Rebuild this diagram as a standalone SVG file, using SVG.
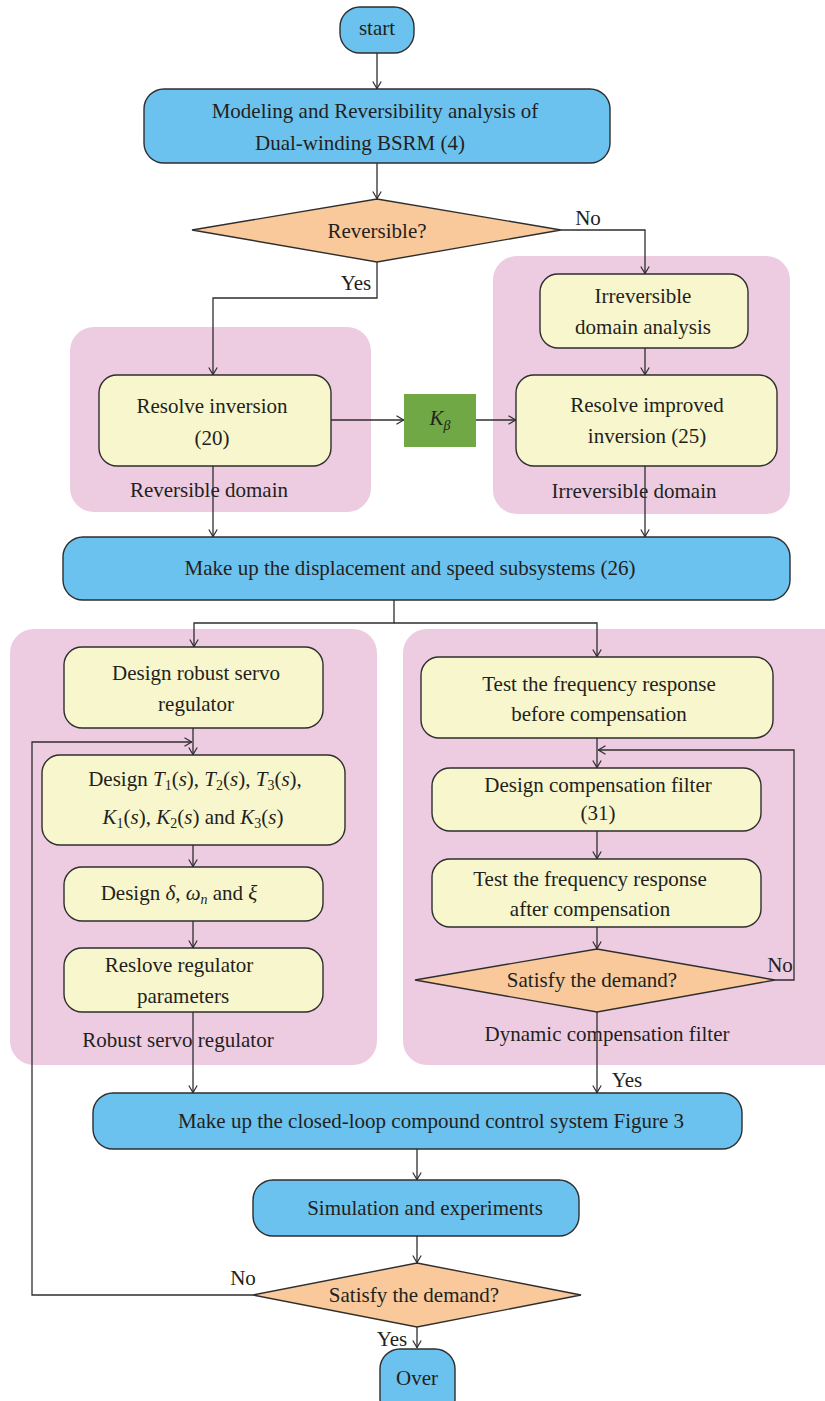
<svg xmlns="http://www.w3.org/2000/svg" width="825" height="1401" viewBox="0 0 825 1401">
<defs>
<marker id="arr" viewBox="0 0 8 10" refX="8" refY="5" markerWidth="8" markerHeight="10" orient="auto" markerUnits="userSpaceOnUse">
<path d="M0.5,0.8 L7.6,5 L0.5,9.2" fill="none" stroke="#2e2e2e" stroke-width="1.2"/>
</marker>
</defs>
<style>
text{font-family:"Liberation Serif","Times New Roman",serif;font-size:21px;fill:#231f20;text-anchor:middle}
.blue{fill:#6cc2ee;stroke:#2e2e2e;stroke-width:1.4}
.yel{fill:#f8f6cc;stroke:#2e2e2e;stroke-width:1.4}
.org{fill:#f9c99b;stroke:#2e2e2e;stroke-width:1.4}
.pink{fill:#edcce2;stroke:none}
.green{fill:#70a845;stroke:none}
.c{fill:none;stroke:#2e2e2e;stroke-width:1.3}
.ca{fill:none;stroke:#2e2e2e;stroke-width:1.3;marker-end:url(#arr)}
.i{font-style:italic}
.sub{font-size:14px}
</style>
<rect width="825" height="1401" fill="#ffffff"/>

<g id="panels">
<g id="panel-reversible"><rect class="pink" x="70" y="327" width="301" height="185" rx="24"/><text x="209" y="497">Reversible domain</text></g>
<g id="panel-irreversible"><rect class="pink" x="493" y="256" width="297" height="258" rx="24"/><text x="634" y="498">Irreversible domain</text></g>
<g id="panel-robust"><rect class="pink" x="10" y="629" width="367" height="436" rx="24"/><text x="178" y="1047">Robust servo regulator</text></g>
<g id="panel-dynamic"><rect class="pink" x="403" y="629" width="445" height="436" rx="24"/><text x="607" y="1041">Dynamic compensation filter</text></g>
</g>

<g id="connectors">
<path class="ca" d="M377,53 V89"/>
<path class="ca" d="M377,163 V199"/>
<path class="ca" d="M377,262 V298 H213 V375"/>
<path class="ca" d="M561,230 H645 V274"/>
<path class="ca" d="M645,348 V375"/>
<path class="ca" d="M331,420 H404"/>
<path class="ca" d="M476,420 H516"/>
<path class="ca" d="M213,466 V537"/>
<path class="ca" d="M645,466 V537"/>
<path class="ca" d="M394,600 V623 H194 V647"/>
<path class="ca" d="M394,623 H597 V657"/>
<path class="ca" d="M193,728 V755"/>
<path class="ca" d="M253,1295 H32 V742 H192"/>
<path class="ca" d="M193,845 V867"/>
<path class="ca" d="M193,921 V948"/>
<path class="ca" d="M193,1012 V1093"/>
<path class="ca" d="M597,738 V768"/>
<path class="ca" d="M775,980 H794 V750 H598"/>
<path class="ca" d="M597,831 V859"/>
<path class="ca" d="M597,927 V949"/>
<path class="ca" d="M597,1012 V1093"/>
<path class="ca" d="M417,1149 V1180"/>
<path class="ca" d="M417,1236 V1263"/>
<path class="ca" d="M417,1327 V1348"/>
<text x="588" y="225">No</text>
<text x="356" y="290">Yes</text>
<text x="780" y="972">No</text>
<text x="627" y="1087">Yes</text>
<text x="243" y="1285">No</text>
<text x="392" y="1346">Yes</text>
</g>

<g id="start"><rect class="blue" x="340" y="7" width="74" height="46" rx="20"/><text x="377" y="35">start</text></g>
<g id="modeling"><rect class="blue" x="144" y="89" width="466" height="74" rx="20"/><text x="375" y="118">Modeling and Reversibility analysis of</text><text x="360" y="150">Dual-winding BSRM (4)</text></g>
<g id="reversible"><polygon class="org" points="192,230 377,199 561,230 377,262"/><text x="377" y="238">Reversible?</text></g>
<g id="irrev-analysis"><rect class="yel" x="540" y="274" width="208" height="74" rx="18"/><text x="643" y="303">Irreversible</text><text x="643" y="334">domain analysis</text></g>
<g id="resolve-inversion"><rect class="yel" x="99" y="375" width="232" height="91" rx="18"/><text x="212" y="413">Resolve inversion</text><text x="212" y="445">(20)</text></g>
<g id="kbeta"><rect class="green" x="404" y="394" width="72" height="53"/><text x="440" y="425"><tspan class="i">K</tspan><tspan class="i sub" dy="5">β</tspan></text></g>
<g id="resolve-improved"><rect class="yel" x="516" y="375" width="261" height="91" rx="18"/><text x="647" y="412">Resolve improved</text><text x="647" y="443">inversion (25)</text></g>
<g id="makeup"><rect class="blue" x="63" y="537" width="727" height="63" rx="20"/><text x="410" y="575">Make up the displacement and speed subsystems (26)</text></g>
<g id="design-robust"><rect class="yel" x="64" y="647" width="259" height="81" rx="18"/><text x="196" y="680">Design robust servo</text><text x="196" y="711">regulator</text></g>
<g id="design-t"><rect class="yel" x="42" y="755" width="303" height="90" rx="18"/>
<text x="195" y="786">Design <tspan class="i">T</tspan><tspan class="sub" dy="4">1</tspan><tspan dy="-4">(</tspan><tspan class="i">s</tspan>), <tspan class="i">T</tspan><tspan class="sub" dy="4">2</tspan><tspan dy="-4">(</tspan><tspan class="i">s</tspan>), <tspan class="i">T</tspan><tspan class="sub" dy="4">3</tspan><tspan dy="-4">(</tspan><tspan class="i">s</tspan>),</text>
<text x="193" y="824"><tspan class="i">K</tspan><tspan class="sub" dy="4">1</tspan><tspan dy="-4">(</tspan><tspan class="i">s</tspan>), <tspan class="i">K</tspan><tspan class="sub" dy="4">2</tspan><tspan dy="-4">(</tspan><tspan class="i">s</tspan>) and <tspan class="i">K</tspan><tspan class="sub" dy="4">3</tspan><tspan dy="-4">(</tspan><tspan class="i">s</tspan>)</text></g>
<g id="design-delta"><rect class="yel" x="64" y="867" width="259" height="54" rx="18"/><text x="179" y="900">Design <tspan class="i">δ</tspan>, <tspan class="i">ω</tspan><tspan class="i sub" dy="4">n</tspan><tspan dy="-4"> and </tspan><tspan class="i">ξ</tspan></text></g>
<g id="reslove"><rect class="yel" x="64" y="948" width="259" height="64" rx="18"/><text x="179" y="972">Reslove regulator</text><text x="183" y="1003">parameters</text></g>
<g id="test-before"><rect class="yel" x="421" y="657" width="352" height="81" rx="18"/><text x="599" y="691">Test the frequency response</text><text x="599" y="721">before compensation</text></g>
<g id="design-comp"><rect class="yel" x="432" y="768" width="329" height="63" rx="18"/><text x="598" y="792">Design compensation filter</text><text x="598" y="820">(31)</text></g>
<g id="test-after"><rect class="yel" x="432" y="859" width="329" height="68" rx="18"/><text x="590" y="886">Test the frequency response</text><text x="590" y="916">after compensation</text></g>
<g id="satisfy-1"><polygon class="org" points="415,980 597,949 775,980 597,1012"/><text x="592" y="987">Satisfy the demand?</text></g>
<g id="closed-loop"><rect class="blue" x="93" y="1093" width="649" height="56" rx="20"/><text x="431" y="1128">Make up the closed-loop compound control system Figure 3</text></g>
<g id="simulation"><rect class="blue" x="253" y="1180" width="326" height="56" rx="20"/><text x="425" y="1215">Simulation and experiments</text></g>
<g id="satisfy-2"><polygon class="org" points="253,1295 417,1263 581,1295 417,1327"/><text x="414" y="1302">Satisfy the demand?</text></g>
<g id="over"><rect class="blue" x="380" y="1349" width="75" height="70" rx="20"/><text x="417" y="1385">Over</text></g>
</svg>
